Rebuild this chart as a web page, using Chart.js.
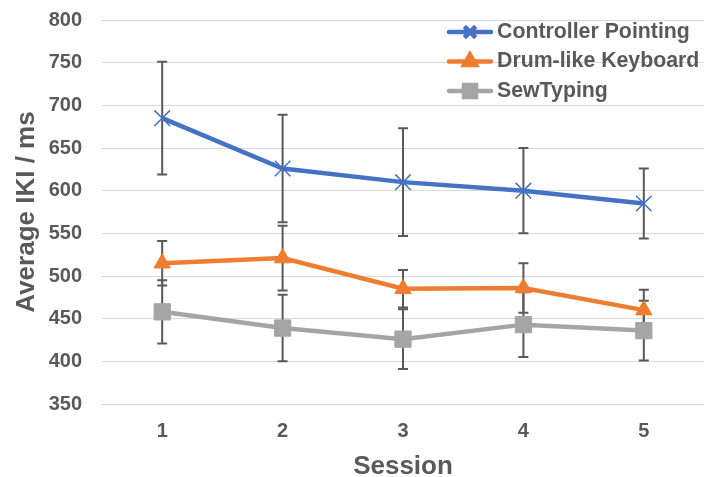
<!DOCTYPE html>
<html><head><meta charset="utf-8">
<script src="https://cdn.jsdelivr.net/npm/chart.js@4.4.0/dist/chart.umd.min.js"></script>
<style>html,body{margin:0;padding:0;background:#fff;}</style>
</head><body>
<canvas id="c" width="704" height="477" style="display:block;width:704px;height:477px"></canvas>
<script>
const sessions = ['1', '2', '3', '4', '5'];
const yMin = 350, yMax = 800, yStep = 50;
const seriesNames = ['Controller Pointing', 'Drum-like Keyboard', 'SewTyping'];
const controllerPointing = [685, 626, 610, 600, 585];
const controllerPointingErr = [66, 63, 63, 50, 41];
const drumKeyboard = [515, 521, 485, 486, 460];
const drumKeyboardErr = [26, 38, 22, 29, 24];
const sewTyping = [458, 439, 426, 443, 436];
const sewTypingErr = [37, 39, 35, 38, 35];

const FONT = '"Liberation Sans", Arial, sans-serif';
const TXT = '#595959';

const errorBarPlugin = {
  id: 'errorBars',
  beforeDatasetsDraw(chart) {
    const {ctx, scales: {x, y}} = chart;
    ctx.save();
    ctx.strokeStyle = '#595959';
    ctx.lineWidth = 2;
    chart.data.datasets.forEach(ds => {
      ds.data.forEach((v, i) => {
        const e = ds.errors[i];
        const px = x.getPixelForValue(i);
        const t = y.getPixelForValue(v + e), b = y.getPixelForValue(v - e);
        ctx.beginPath();
        ctx.moveTo(px, t); ctx.lineTo(px, b);
        ctx.moveTo(px - 5, t); ctx.lineTo(px + 5, t);
        ctx.moveTo(px - 5, b); ctx.lineTo(px + 5, b);
        ctx.stroke();
      });
    });
    ctx.restore();
  }
};

const legendPlugin = {
  id: 'customLegend',
  afterDraw(chart) {
    const ctx = chart.ctx;
    ctx.save();
    chart.data.datasets.forEach((ds, i) => {
      const yy = 32 + i * 29.5;
      ctx.strokeStyle = ds.borderColor;
      ctx.lineWidth = 4.5;
      ctx.lineCap = 'round';
      ctx.beginPath(); ctx.moveTo(449, yy); ctx.lineTo(491, yy); ctx.stroke();
      ctx.lineCap = 'butt';
      ctx.fillStyle = ds.pointBackgroundColor;
      ctx.strokeStyle = ds.pointBorderColor;
      Chart.helpers.drawPoint(ctx, {pointStyle: ds.pointStyle, radius: ds.legendRadius, borderWidth: ds.pointBorderWidth, rotation: 0}, 470, yy);
      ctx.fillStyle = TXT;
      ctx.font = 'bold 21.3px ' + FONT;
      ctx.textBaseline = 'middle';
      ctx.textAlign = 'left';
      ctx.fillText(ds.label, 497, yy);
    });
    ctx.restore();
  }
};

new Chart(document.getElementById('c'), {
  type: 'line',
  data: {
    labels: sessions,
    datasets: [
      {label: seriesNames[0], data: controllerPointing, errors: controllerPointingErr,
       borderColor: '#4472C4', borderWidth: 4.5, pointStyle: 'crossRot', pointRadius: 11,
       pointBorderWidth: 1.5, pointBorderColor: '#4472C4', pointBackgroundColor: '#4472C4', legendRadius: 8},
      {label: seriesNames[1], data: drumKeyboard, errors: drumKeyboardErr,
       borderColor: '#ED7D31', borderWidth: 4.5, pointStyle: 'triangle', pointRadius: 9.5,
       pointBorderWidth: 1, pointBorderColor: '#ED7D31', pointBackgroundColor: '#ED7D31', legendRadius: 7},
      {label: seriesNames[2], data: sewTyping, errors: sewTypingErr,
       borderColor: '#A5A5A5', borderWidth: 4.5, pointStyle: 'rect', pointRadius: 11.5,
       pointBorderWidth: 1, pointBorderColor: '#A5A5A5', pointBackgroundColor: '#A5A5A5', legendRadius: 8.5}
    ]
  },
  options: {
    responsive: false,
    animation: false,
    events: [],
    layout: {autoPadding: false, padding: {top: 20, left: 0, right: 0, bottom: 0}},
    plugins: {legend: {display: false}, tooltip: {enabled: false}},
    scales: {
      x: {
        offset: true,
        grid: {display: false},
        border: {display: false},
        ticks: {color: TXT, font: {family: FONT, size: 20, weight: 'bold'}, padding: 7},
        title: {display: true, text: 'Session', color: TXT, font: {family: FONT, size: 26, weight: 'bold', lineHeight: 0.75}, padding: {top: 0, bottom: 0}},
        afterFit(s) { s.height = 73; s.paddingLeft = 0; s.paddingRight = 0; }
      },
      y: {
        min: yMin, max: yMax,
        grid: {color: '#D9D9D9', lineWidth: 1, drawTicks: false},
        border: {display: false},
        ticks: {stepSize: yStep, color: TXT, font: {family: FONT, size: 20, weight: 'bold'}, padding: 20},
        title: {display: true, text: 'Average IKI / ms', color: TXT, font: {family: FONT, size: 26, weight: 'bold', lineHeight: 1}, padding: {top: 14, bottom: 0}},
        afterFit(s) { s.width = 102; s.paddingTop = 0; s.paddingBottom = 0; }
      }
    }
  },
  plugins: [errorBarPlugin, legendPlugin]
});
</script>
</body></html>
